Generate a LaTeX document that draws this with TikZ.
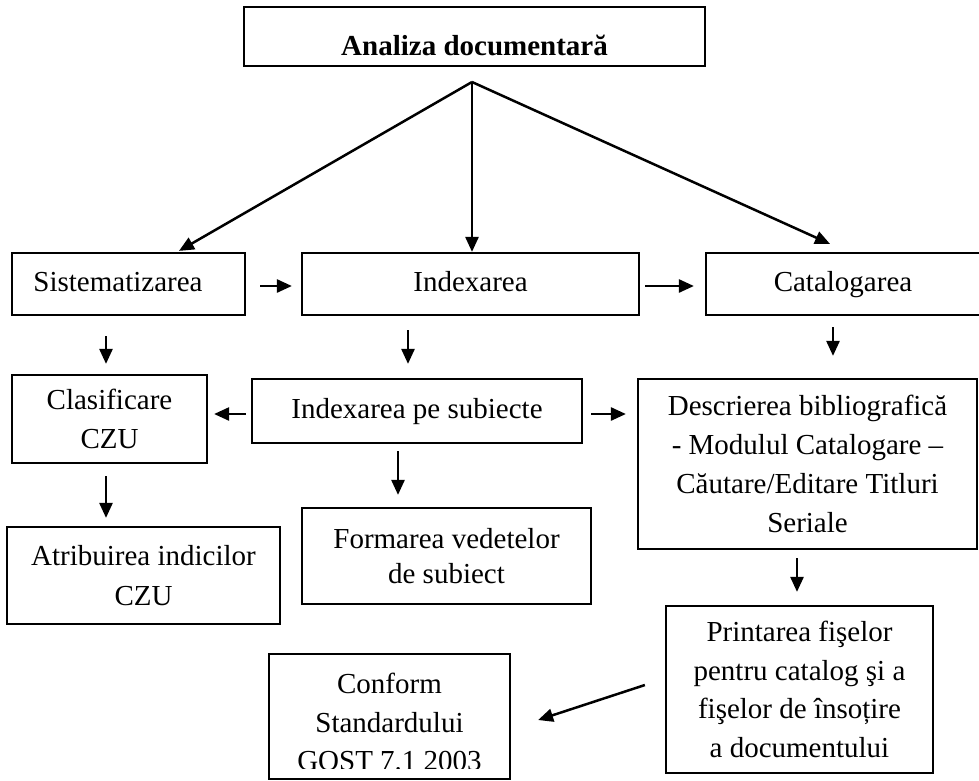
\documentclass[tikz,border=0pt]{standalone}
\usepackage{fontspec}
\setmainfont{Liberation Serif}
\usetikzlibrary{arrows.meta,calc}
\tikzset{
  box/.style={draw, line width=2.2pt, inner sep=0pt, align=center,
    font=\fontsize{29}{38.5}\selectfont},
  one/.style={text height=20pt, text depth=6pt},
  arr/.style={line width=2.5pt, -{Triangle[length=15pt,width=13pt]}}
}
\begin{document}
\begin{tikzpicture}[x=1pt,y=-1pt]
\clip (0,0) rectangle (979,780);
\fill[white] (0,0) rectangle (979,780);
% boxes
\node[box, minimum width=461pt, minimum height=59pt, text height=40pt, text depth=3pt, font=\fontsize{29}{38}\selectfont\bfseries] (top) at (474.5,36.5) {Analiza documentară};
\node[box, one, minimum width=233pt, minimum height=62pt] (sis) at (128.5,284) {Sistematizarea\hspace*{21pt}};
\node[box, one, minimum width=337pt, minimum height=62pt] (idx) at (470.5,284) {Indexarea};
\node[box, one, minimum width=274pt, minimum height=62pt] (cat) at (843,284) {Catalogarea};
\node[box, minimum width=195pt, minimum height=88pt] (clas) at (109.5,419) {Clasificare\\CZU};
\node[box, one, minimum width=330pt, minimum height=64pt] (ips) at (417,411) {Indexarea pe subiecte};
\node[box, minimum width=339pt, minimum height=170pt, font=\fontsize{29}{39}\selectfont] (desc) at (807.5,464) {Descrierea bibliografică\\- Modulul Catalogare –\\Căutare/Editare Titluri\\Seriale};
\node[box, minimum width=273pt, minimum height=97pt, font=\fontsize{29}{39.5}\selectfont] (atr) at (143.5,575.5) {Atribuirea indicilor\\CZU};
\node[box, minimum width=289pt, minimum height=96pt, font=\fontsize{29}{35}\selectfont] (form) at (446.5,556) {Formarea vedetelor\\de subiect};
\node[box, minimum width=267pt, minimum height=167pt, font=\fontsize{29}{38.7}\selectfont] (print) at (799.5,689.5) {Printarea fişelor\\pentru catalog şi a\\fişelor de însoțire\\a documentului};
\node[box, minimum width=241pt, minimum height=125pt] (conf) at (389.5,716.5) {};
\begin{scope}
\clip (269,654) rectangle (510,768);
\node[align=center, inner sep=0pt, font=\fontsize{29}{38.5}\selectfont] (conftxt) at (389.5,722) {Conform\\Standardului\\GOST 7.1 2003};
\end{scope}
% connectors
\coordinate (apex) at (472,82);
\draw[arr] (apex) -- ($(sis.north)+(50.5,-1)$);
\draw[arr] (apex) -- (apex |- idx.north);
\draw[arr] (apex) -- ($(cat.north)+(-13,-8)$);
\draw[arr, shorten <=14pt, shorten >=9pt] ([yshift=-2]sis.east) -- ([yshift=-2]idx.west);
\draw[arr, shorten <=5pt, shorten >=11pt] ([yshift=-2]idx.east) -- ([yshift=-2]cat.west);
\draw[arr, shorten <=20pt, shorten >=10pt] ([xshift=-22.5]sis.south) -- ([xshift=-3.5]clas.north);
\draw[arr, shorten <=14pt, shorten >=14pt] ([xshift=-62.5]idx.south) -- ([xshift=-9]ips.north);
\draw[arr, shorten <=11pt, shorten >=22pt] ([xshift=-10]cat.south) -- ([xshift=25.5]desc.north);
\draw[arr, shorten <=5pt, shorten >=6pt] ([yshift=-3]ips.west) -- ([yshift=-3]ips.west -| clas.east);
\draw[arr, shorten <=8pt, shorten >=11pt] ([yshift=-3]ips.east) -- ([yshift=-3]ips.east -| desc.west);
\draw[arr, shorten <=12pt, shorten >=8pt] ([xshift=-3.5]clas.south) -- ([xshift=-3.5]clas.south |- atr.north);
\draw[arr, shorten <=7pt, shorten >=12pt] ([xshift=-19]ips.south) -- ([xshift=-19]ips.south |- form.north);
\draw[arr, shorten <=8pt, shorten >=13pt] ([xshift=-10.5]desc.south) -- ([xshift=-10.5]desc.south |- print.north);
\draw[arr] ($(print.west)+(-20,-4.5)$) -- ($(conf.east)+(27,3.5)$);
\end{tikzpicture}
\end{document}
